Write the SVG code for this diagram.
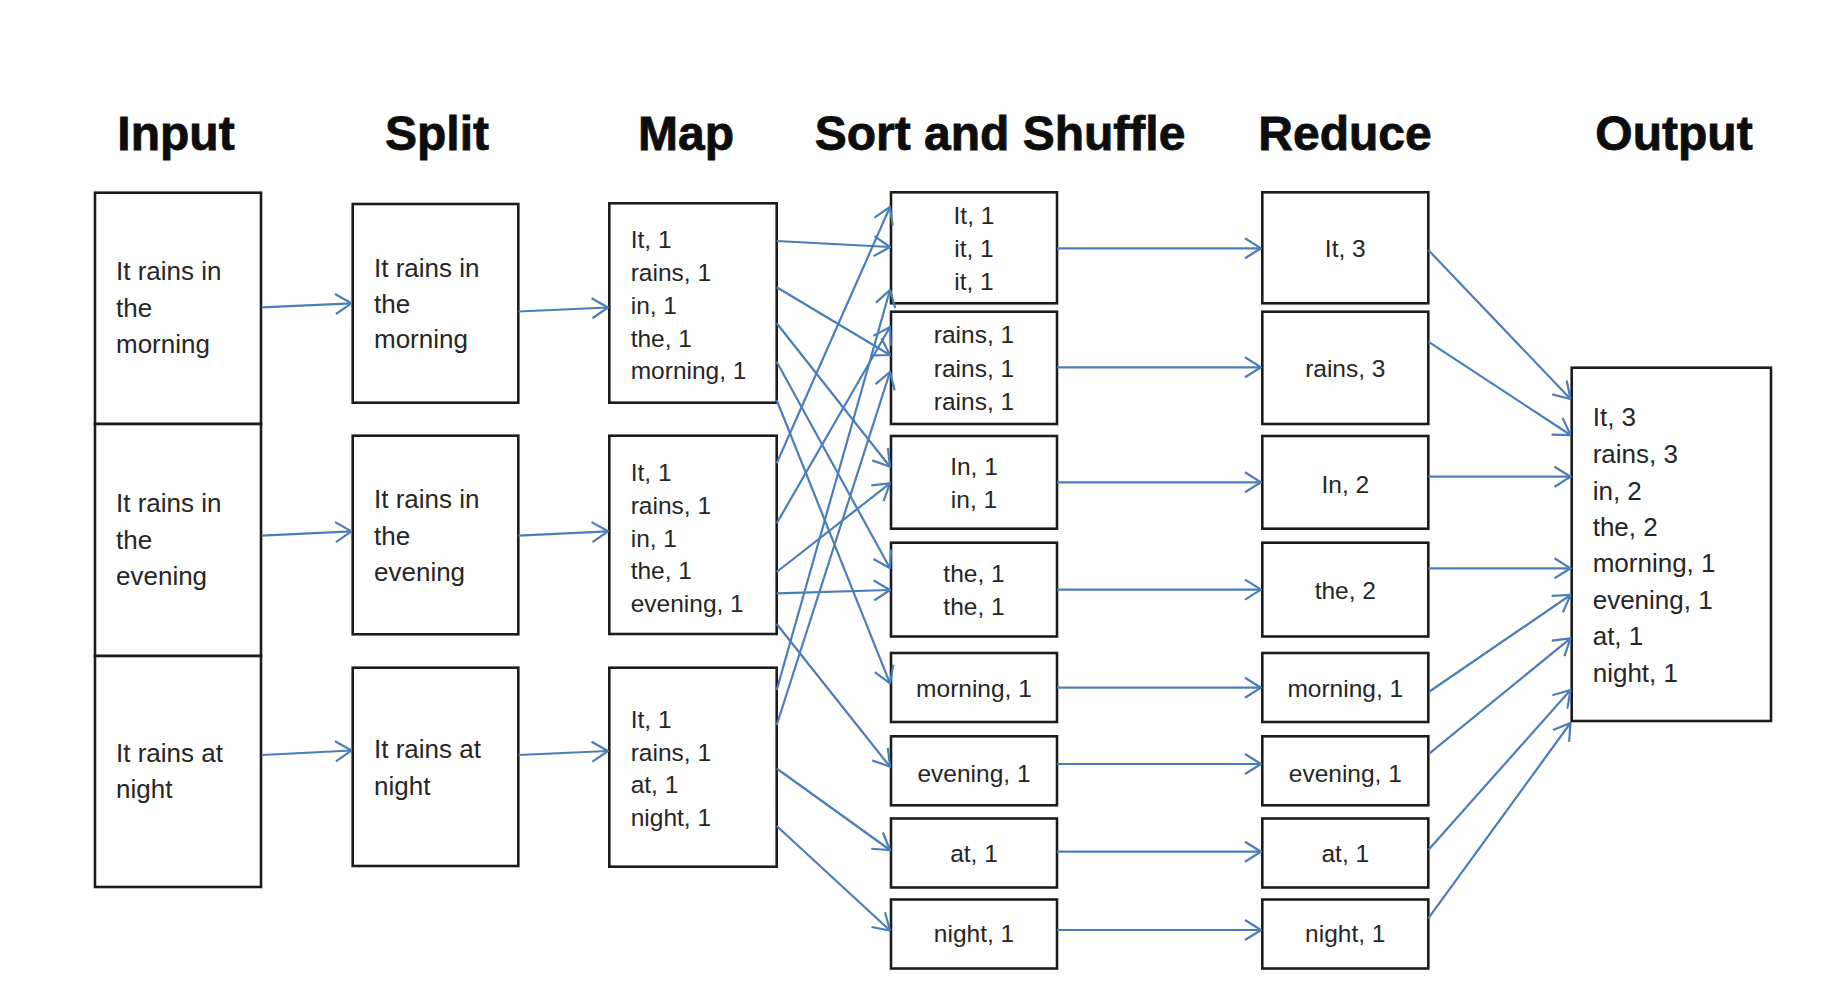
<svg xmlns="http://www.w3.org/2000/svg" width="1838" height="988" viewBox="0 0 1838 988">
<style>
.bg{fill:#ffffff}
.box{fill:#ffffff;stroke:#1c1c1c;stroke-width:2.6}
.title{font-family:"Liberation Sans",Arial,sans-serif;font-weight:bold;font-size:48px;fill:#0d0d0d;stroke:#0d0d0d;stroke-width:0.8;text-anchor:middle}
.big{font-family:"Liberation Sans",Arial,sans-serif;font-size:26px;fill:#262626}
.sm{font-family:"Liberation Sans",Arial,sans-serif;font-size:24.5px;fill:#262626}
.c{text-anchor:middle}
.conn line{stroke:#4a7ebb;stroke-width:2.2;fill:none;marker-end:url(#arr)}
</style>
<defs>
<marker id="arr" markerUnits="userSpaceOnUse" viewBox="0 0 18 22" markerWidth="18" markerHeight="22" refX="17" refY="11" orient="auto">
<path d="M1,1 L17,11 L1,21" fill="none" stroke="#4a7ebb" stroke-width="2.2"/>
</marker>
</defs>
<rect class="bg" x="0" y="0" width="1838" height="988"/>

<g id="titles">
<text class="title" x="176" y="150">Input</text>
<text class="title" x="437" y="150">Split</text>
<text class="title" x="686" y="150">Map</text>
<text class="title" x="1000" y="150">Sort and Shuffle</text>
<text class="title" x="1345" y="150">Reduce</text>
<text class="title" x="1674" y="150">Output</text>
</g>

<g id="input-1">
<rect class="box" x="95" y="192.7" width="166" height="231.3"/>
<text class="big"><tspan x="116" y="280">It rains in</tspan><tspan x="116" y="316.7">the</tspan><tspan x="116" y="353.3">morning</tspan></text>
</g>
<g id="input-2">
<rect class="box" x="95" y="424" width="166" height="232"/>
<text class="big"><tspan x="116" y="512">It rains in</tspan><tspan x="116" y="548.7">the</tspan><tspan x="116" y="585.3">evening</tspan></text>
</g>
<g id="input-3">
<rect class="box" x="95" y="656" width="166" height="231"/>
<text class="big"><tspan x="116" y="761.7">It rains at</tspan><tspan x="116" y="798.3">night</tspan></text>
</g>

<g id="split-1">
<rect class="box" x="352.7" y="204" width="165.6" height="198.7"/>
<text class="big"><tspan x="374" y="276.7">It rains in</tspan><tspan x="374" y="312.7">the</tspan><tspan x="374" y="348.3">morning</tspan></text>
</g>
<g id="split-2">
<rect class="box" x="352.7" y="435.7" width="165.6" height="198.6"/>
<text class="big"><tspan x="374" y="508.3">It rains in</tspan><tspan x="374" y="544.7">the</tspan><tspan x="374" y="581">evening</tspan></text>
</g>
<g id="split-3">
<rect class="box" x="352.7" y="667.7" width="165.6" height="198.3"/>
<text class="big"><tspan x="374" y="758.3">It rains at</tspan><tspan x="374" y="795">night</tspan></text>
</g>

<g id="map-1">
<rect class="box" x="609.3" y="203.3" width="167.4" height="199.4"/>
<text class="sm"><tspan x="630.7" y="248.3">It, 1</tspan><tspan x="630.7" y="281">rains, 1</tspan><tspan x="630.7" y="314">in, 1</tspan><tspan x="630.7" y="346.7">the, 1</tspan><tspan x="630.7" y="379.3">morning, 1</tspan></text>
</g>
<g id="map-2">
<rect class="box" x="609.3" y="435.7" width="167.4" height="198.3"/>
<text class="sm"><tspan x="630.7" y="481">It, 1</tspan><tspan x="630.7" y="513.5">rains, 1</tspan><tspan x="630.7" y="546.5">in, 1</tspan><tspan x="630.7" y="579.3">the, 1</tspan><tspan x="630.7" y="612">evening, 1</tspan></text>
</g>
<g id="map-3">
<rect class="box" x="609.3" y="667.7" width="167.4" height="199"/>
<text class="sm"><tspan x="630.7" y="728.3">It, 1</tspan><tspan x="630.7" y="760.7">rains, 1</tspan><tspan x="630.7" y="793.3">at, 1</tspan><tspan x="630.7" y="826">night, 1</tspan></text>
</g>

<g id="sort-it">
<rect class="box" x="891" y="192.3" width="166" height="111"/>
<text class="sm c"><tspan x="974" y="224">It, 1</tspan><tspan x="974" y="257">it, 1</tspan><tspan x="974" y="290">it, 1</tspan></text>
</g>
<g id="sort-rains">
<rect class="box" x="891" y="311.7" width="166" height="112.3"/>
<text class="sm c"><tspan x="974" y="343.3">rains, 1</tspan><tspan x="974" y="376.7">rains, 1</tspan><tspan x="974" y="410">rains, 1</tspan></text>
</g>
<g id="sort-in">
<rect class="box" x="891" y="436" width="166" height="92.7"/>
<text class="sm c"><tspan x="974" y="475">In, 1</tspan><tspan x="974" y="508.3">in, 1</tspan></text>
</g>
<g id="sort-the">
<rect class="box" x="891" y="542.7" width="166" height="93.8"/>
<text class="sm c"><tspan x="974" y="581.7">the, 1</tspan><tspan x="974" y="615">the, 1</tspan></text>
</g>
<g id="sort-morning">
<rect class="box" x="891" y="653" width="166" height="69"/>
<text class="sm c" x="974" y="696.7">morning, 1</text>
</g>
<g id="sort-evening">
<rect class="box" x="891" y="736.3" width="166" height="69"/>
<text class="sm c" x="974" y="781.7">evening, 1</text>
</g>
<g id="sort-at">
<rect class="box" x="891" y="818.5" width="166" height="69"/>
<text class="sm c" x="974" y="861.7">at, 1</text>
</g>
<g id="sort-night">
<rect class="box" x="891" y="899.5" width="166" height="69"/>
<text class="sm c" x="974" y="941.7">night, 1</text>
</g>

<g id="reduce-it">
<rect class="box" x="1262.3" y="192.3" width="166" height="111"/>
<text class="sm c" x="1345.3" y="257.3">It, 3</text>
</g>
<g id="reduce-rains">
<rect class="box" x="1262.3" y="311.7" width="166" height="112.3"/>
<text class="sm c" x="1345.3" y="377.3">rains, 3</text>
</g>
<g id="reduce-in">
<rect class="box" x="1262.3" y="436" width="166" height="92.7"/>
<text class="sm c" x="1345.3" y="493">In, 2</text>
</g>
<g id="reduce-the">
<rect class="box" x="1262.3" y="542.7" width="166" height="93.8"/>
<text class="sm c" x="1345.3" y="599">the, 2</text>
</g>
<g id="reduce-morning">
<rect class="box" x="1262.3" y="653" width="166" height="69"/>
<text class="sm c" x="1345.3" y="696.7">morning, 1</text>
</g>
<g id="reduce-evening">
<rect class="box" x="1262.3" y="736.3" width="166" height="69"/>
<text class="sm c" x="1345.3" y="781.7">evening, 1</text>
</g>
<g id="reduce-at">
<rect class="box" x="1262.3" y="818.5" width="166" height="69"/>
<text class="sm c" x="1345.3" y="861.7">at, 1</text>
</g>
<g id="reduce-night">
<rect class="box" x="1262.3" y="899.5" width="166" height="69"/>
<text class="sm c" x="1345.3" y="941.7">night, 1</text>
</g>

<g id="output">
<rect class="box" x="1571.7" y="367.7" width="199.3" height="353.3"/>
<text class="big"><tspan x="1592.7" y="426">It, 3</tspan><tspan x="1592.7" y="463">rains, 3</tspan><tspan x="1592.7" y="499.5">in, 2</tspan><tspan x="1592.7" y="536">the, 2</tspan><tspan x="1592.7" y="572">morning, 1</tspan><tspan x="1592.7" y="608.5">evening, 1</tspan><tspan x="1592.7" y="645">at, 1</tspan><tspan x="1592.7" y="681.7">night, 1</tspan></text>
</g>

<g id="connectors" class="conn">
<line x1="261.7" y1="307.3" x2="351.5" y2="303.3"/>
<line x1="518.3" y1="311.5" x2="608" y2="307.5"/>
<line x1="261.7" y1="535.7" x2="351.5" y2="531.3"/>
<line x1="518.3" y1="535.7" x2="608" y2="531.3"/>
<line x1="261.7" y1="755" x2="351.5" y2="750.5"/>
<line x1="518.3" y1="755" x2="608" y2="751"/>

<line x1="776.7" y1="241" x2="890" y2="247"/>
<line x1="776.7" y1="287.3" x2="890" y2="355"/>
<line x1="776.7" y1="323.3" x2="890" y2="466.7"/>
<line x1="776.7" y1="361.7" x2="890" y2="568.3"/>
<line x1="776.7" y1="400" x2="890" y2="683.3"/>
<line x1="776.7" y1="463.3" x2="890" y2="207"/>
<line x1="776.7" y1="523.3" x2="890" y2="327"/>
<line x1="776.7" y1="572" x2="890" y2="483.3"/>
<line x1="776.7" y1="593.3" x2="890" y2="590"/>
<line x1="776.7" y1="624" x2="890" y2="766.7"/>
<line x1="776.7" y1="690" x2="890" y2="290"/>
<line x1="776.7" y1="725" x2="890" y2="372"/>
<line x1="776.7" y1="768.5" x2="890" y2="850"/>
<line x1="776.7" y1="826" x2="890" y2="930.5"/>

<line x1="1057" y1="248.3" x2="1261" y2="248.3"/>
<line x1="1057" y1="367.3" x2="1261" y2="367.3"/>
<line x1="1057" y1="482.3" x2="1261" y2="482.3"/>
<line x1="1057" y1="589.6" x2="1261" y2="589.6"/>
<line x1="1057" y1="687.7" x2="1261" y2="687.7"/>
<line x1="1057" y1="764" x2="1261" y2="764"/>
<line x1="1057" y1="851.7" x2="1261" y2="851.7"/>
<line x1="1057" y1="930" x2="1261" y2="930"/>

<line x1="1428.3" y1="250" x2="1570.5" y2="399"/>
<line x1="1428.3" y1="341.7" x2="1570.5" y2="435"/>
<line x1="1428.3" y1="476.7" x2="1570.5" y2="476.7"/>
<line x1="1428.3" y1="568.3" x2="1570.5" y2="568.3"/>
<line x1="1429.5" y1="691.5" x2="1570.5" y2="595"/>
<line x1="1429.5" y1="753.3" x2="1570.5" y2="638.3"/>
<line x1="1428.3" y1="850" x2="1570.5" y2="690"/>
<line x1="1428.3" y1="918.3" x2="1570.5" y2="723"/>
</g>
</svg>
